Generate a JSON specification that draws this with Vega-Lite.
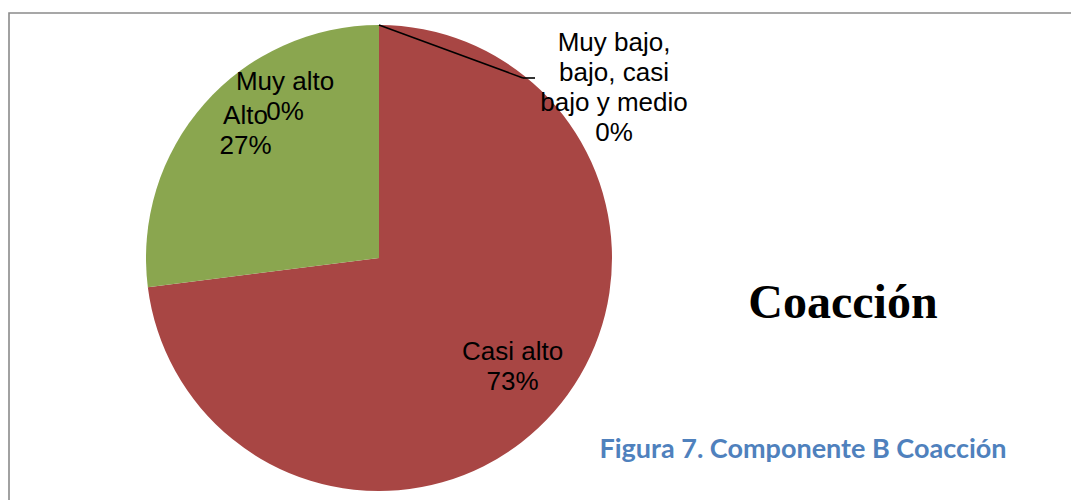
{
  "$schema": "https://vega.github.io/schema/vega-lite/v6.json",
  "width": 1075,
  "height": 500,
  "autosize": {"type": "none"},
  "padding": {"left": 9, "top": 13, "right": 0, "bottom": 0},
  "background": "white",
  "config": {
    "view": {"stroke": "#8a8a8a", "strokeWidth": 1.6},
    "text": {"font": "Liberation Sans", "fontSize": 26, "lineHeight": 30}
  },
  "datasets": {
    "slices": [
      {"cat": "Muy bajo, bajo, casi bajo y medio", "value": 0, "order": 1, "label": "Muy bajo,\nbajo, casi\nbajo y medio\n0%"},
      {"cat": "Casi alto", "value": 73, "order": 2, "label": "Casi alto\n73%"},
      {"cat": "Alto", "value": 27, "order": 3, "label": "Alto\n27%"},
      {"cat": "Muy alto", "value": 0, "order": 4, "label": "Muy alto\n0%"}
    ],
    "notes": [
      {"kind": "title", "text": "Coacción"},
      {"kind": "caption", "text": "Figura 7. Componente B Coacción"}
    ]
  },
  "data": {"name": "slices"},
  "layer": [
    {
      "mark": {"type": "arc", "radius": 233, "stroke": null},
      "encoding": {
        "x": {"value": 370},
        "y": {"value": 245},
        "theta": {"field": "value", "type": "quantitative", "stack": true},
        "order": {"field": "order", "type": "quantitative"},
        "color": {
          "field": "cat", "type": "nominal", "legend": null,
          "scale": {
            "domain": ["Muy bajo, bajo, casi bajo y medio", "Casi alto", "Alto", "Muy alto"],
            "range": ["#4F81BD", "#A84644", "#8AA64F", "#8064A2"]
          }
        }
      }
    },
    {
      "transform": [{"filter": "datum.value > 0"}],
      "mark": {"type": "text", "radius": 178, "dy": -24, "lineBreak": "\n", "baseline": "middle", "align": "center", "color": "black"},
      "encoding": {
        "x": {"value": 370},
        "y": {"value": 245},
        "theta": {"field": "value", "type": "quantitative", "stack": true},
        "order": {"field": "order", "type": "quantitative"},
        "text": {"field": "label", "type": "nominal"}
      }
    },
    {
      "transform": [{"filter": "datum.cat == 'Muy alto'"}],
      "mark": {"type": "text", "dx": -94, "dy": -176, "lineBreak": "\n", "baseline": "middle", "align": "center", "color": "black"},
      "encoding": {
        "x": {"value": 370},
        "y": {"value": 245},
        "text": {"field": "label", "type": "nominal"}
      }
    },
    {
      "transform": [{"filter": "datum.order == 1"}],
      "mark": {"type": "text", "dx": 235, "dy": -215, "lineBreak": "\n", "baseline": "middle", "align": "center", "color": "black"},
      "encoding": {
        "x": {"value": 370},
        "y": {"value": 245},
        "text": {"field": "label", "type": "nominal"}
      }
    },
    {
      "data": {"values": [{"seg": 1}]},
      "mark": {"type": "rule", "color": "black", "strokeWidth": 1.6},
      "encoding": {
        "x": {"value": 370}, "y": {"value": 12},
        "x2": {"value": 514}, "y2": {"value": 65}
      }
    },
    {
      "data": {"values": [{"seg": 2}]},
      "mark": {"type": "rule", "color": "black", "strokeWidth": 1.6},
      "encoding": {
        "x": {"value": 514}, "y": {"value": 65},
        "x2": {"value": 526}, "y2": {"value": 65}
      }
    },
    {
      "data": {"name": "notes"},
      "transform": [{"filter": "datum.kind == 'title'"}],
      "mark": {"type": "text", "font": "Liberation Serif", "fontWeight": "bold", "fontSize": 48, "align": "center", "baseline": "alphabetic", "color": "black"},
      "encoding": {
        "x": {"value": 834},
        "y": {"value": 305},
        "text": {"field": "text", "type": "nominal"}
      }
    },
    {
      "data": {"name": "notes"},
      "transform": [{"filter": "datum.kind == 'caption'"}],
      "mark": {"type": "text", "font": "Lato", "fontWeight": "bold", "fontSize": 27, "align": "center", "baseline": "alphabetic", "color": "#4F81BD"},
      "encoding": {
        "x": {"value": 794},
        "y": {"value": 445},
        "text": {"field": "text", "type": "nominal"}
      }
    }
  ]
}
